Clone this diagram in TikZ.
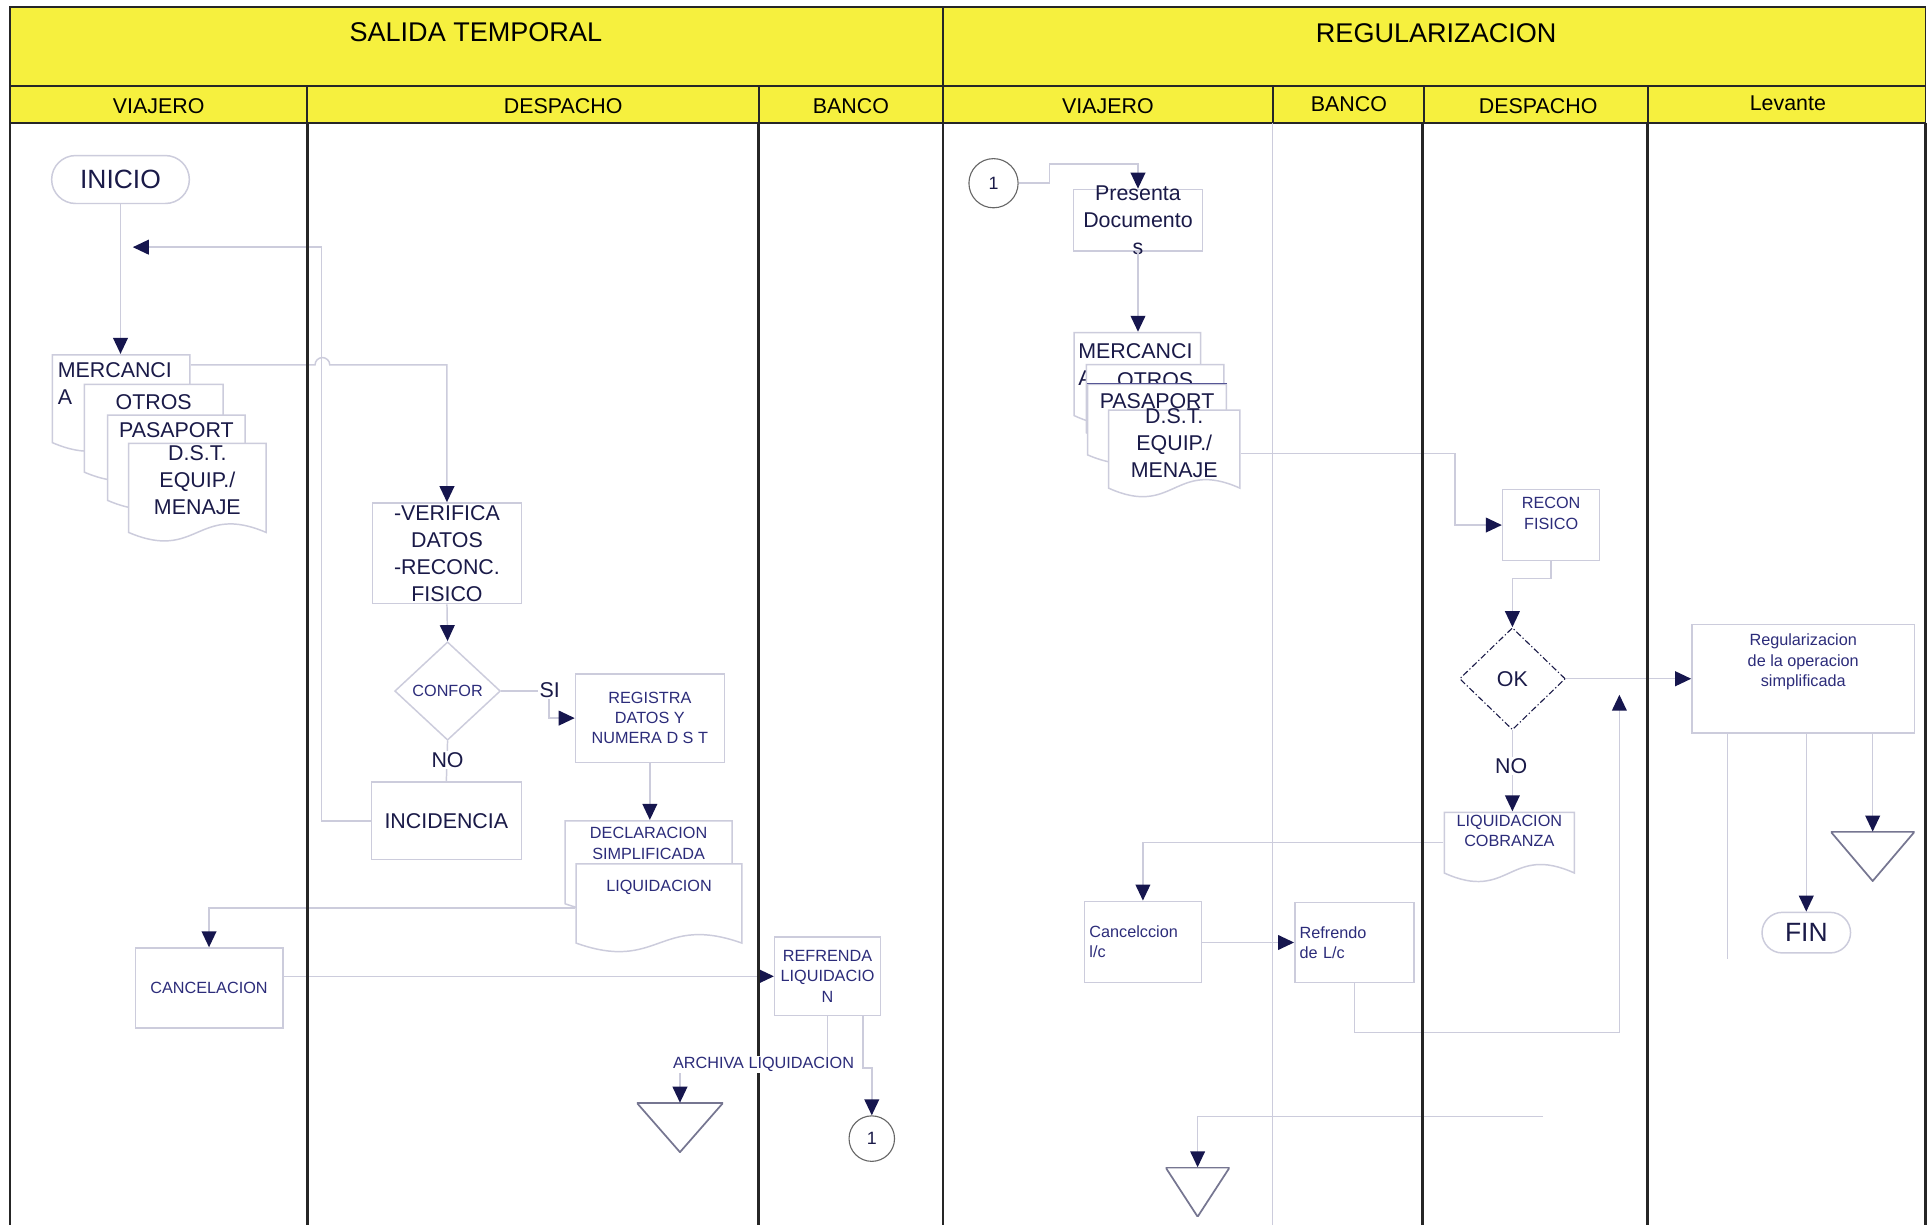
\documentclass[tikz,border=0pt]{standalone}
\usepackage{fontspec}
\setmainfont{Liberation Sans}
\usetikzlibrary{arrows.meta,shapes.geometric,calc}

\definecolor{amarillo}{RGB}{246,240,62}
\definecolor{tinta}{RGB}{26,26,72}
\definecolor{tinta2}{RGB}{44,44,122}
\definecolor{gris}{RGB}{204,204,220}
\definecolor{flecha}{RGB}{22,22,78}

\tikzset{
  titulo/.style={font=\fontsize{22}{26}\selectfont},
  cabecera/.style={font=\fontsize{17.4}{20}\selectfont},
  textogr/.style={font=\fontsize{17.4}{22}\selectfont, text=tinta},
  textoch/.style={font=\fontsize{13.2}{16.5}\selectfont, text=tinta2},
  etiq/.style={anchor=north, inner sep=5pt, align=center},
  tarea/.style={draw=gris, line width=1.2pt, fill=white, inner sep=1pt, align=center},
  inicio/.style={tarea, rounded corners=#1, font=\fontsize{21.5}{26}\selectfont, text=tinta},
  decision/.style={diamond, draw=gris, line width=1.2pt, fill=white, inner sep=0pt},
  conector/.style={circle, draw=black!60, line width=0.9pt, fill=white, inner sep=0pt,
    font=\fontsize{14.5}{16}\selectfont, text=tinta},
  docu/.style 2 args={minimum width=#1, minimum height=#2, inner sep=0pt, path picture={
      \path[fill=white, draw=gris, line width=1.2pt]
        ([shift={(0.6pt,-0.6pt)}]path picture bounding box.north west)
        -- ([shift={(-0.6pt,-0.6pt)}]path picture bounding box.north east)
        -- ([shift={(-0.6pt,8pt)}]path picture bounding box.south east)
        .. controls ($(path picture bounding box.south)+(0pt,32pt)$)
           and ($(path picture bounding box.south)+(0pt,-16pt)$)
        .. ([shift={(0.6pt,8pt)}]path picture bounding box.south west) -- cycle;}},
  archivo/.style={minimum width=#1, minimum height=40pt, inner sep=0pt, path picture={
      \draw[tinta!60, line width=1.4pt] (path picture bounding box.north west)
        -- (path picture bounding box.north east) -- (path picture bounding box.south) -- cycle;}},
  linea/.style={draw=gris, line width=1.2pt},
  flec/.style={linea, -{Triangle[length=13pt, width=12pt, color=flecha]}},
  carril/.style={draw=black!85, line width=2pt},
  rotulo/.style={fill=white, inner sep=1pt},
}

\begin{document}
\begin{tikzpicture}[x=1pt, y=-1pt]
    \fill[white] (0,0) rectangle (1568,996);
    \useasboundingbox (0,0) rectangle (1568,996);
    % cabecera
    \fill[amarillo] (8,6) rectangle (1566,100);
    \draw[black!85, line width=1.5pt] (8,6) rectangle (767,70) (767,6) rectangle (1566,70);
    \node[titulo] (salida) at (387,26) {SALIDA TEMPORAL};
    \node[titulo] (regular) at (1168,27) {REGULARIZACION};
    \foreach \xa/\xb/\xt/\yt/\nom [count=\i] in {8/250/129/86/VIAJERO,
        250/617/458/86/DESPACHO, 617/767/692/86/BANCO,
        767/1035/901/86/VIAJERO, 1035/1158/1097/85/BANCO,
        1158/1340/1251/86/DESPACHO, 1340/1566/1454/84/Levante}{
      \draw[black!85, line width=1.5pt] (\xa,70) rectangle (\xb,100);
      \node[cabecera] (cab\i) at (\xt,\yt) {\nom};
    }

    % salida temporal
    \node[inicio=19.5pt, minimum width=112pt, minimum height=39pt] (ini) at (98,146) {INICIO};
    \node[docu={113pt}{80pt}, label={[textogr,etiq,anchor=north west,align=left,yshift=-2pt]north west:MERCANCI\\A}] (merc) at (98.5,328) {};
    \node[docu={114pt}{80pt}, label={[textogr,etiq,yshift=-4pt]north:OTROS}] (otros) at (125,352) {};
    \node[docu={113pt}{78pt}, label={[textogr,etiq,yshift=-2pt]north:PASAPORT}] (pasap) at (143.5,376) {};
    \node[docu={113pt}{81pt}, label={[textogr,etiq,yshift=3pt]north:D.S.T.\\EQUIP./\\MENAJE}] (dst) at (160.5,400.5) {};
    \node[tarea, textogr, minimum width=121pt, minimum height=82pt] (verif) at (363.5,450) {-VERIFICA\\DATOS\\-RECONC.\\FISICO};
    \node[decision, textoch, minimum width=86pt, minimum height=80pt] (confor) at (364,562) {CONFOR};
    \node[tarea, textoch, minimum width=121pt, minimum height=72pt] (regis) at (528.5,584) {REGISTRA\\DATOS Y\\NUMERA D S T};
    \node[tarea, textogr, minimum width=122pt, minimum height=63pt] (incid) at (363,667.5) {INCIDENCIA};
    \node[docu={137pt}{76pt}, label={[textoch,etiq,yshift=-1pt]north:DECLARACION\\SIMPLIFICADA}] (decla) at (527.5,705) {};
    \node[docu={136pt}{73pt}, label={[textoch,etiq,yshift=-9pt]north:LIQUIDACION}] (liqui) at (536,738.5) {};
    \node[tarea, textoch, minimum width=120pt, minimum height=65pt] (cance) at (170,803.5) {CANCELACION};
    \node[tarea, textoch, minimum width=86pt, minimum height=64pt] (refre) at (673,794) {REFRENDA\\LIQUIDACIO\\N};
    \node[archivo=70pt] (arch1) at (553,917) {};
    \node[conector, minimum size=37pt] (con1) at (709,926) {1};

    % regularizacion
    \node[conector, minimum size=40pt] (con2) at (808,149) {1};
    \node[tarea, minimum width=105pt, minimum height=50pt] (prese) at (925.5,179) {};
    \node[textogr, align=center] (presT) at (prese) {Presenta\\Documento\\s};
    \node[docu={104pt}{76pt}, label={[textogr,etiq,anchor=north west,align=left,yshift=-4pt,xshift=-1pt]north west:MERCANCI\\A}] (merc2) at (925,308) {};
    \node[docu={113pt}{64pt}, label={[textogr,etiq,yshift=-2pt]north:OTROS}] (otros2) at (939.5,328) {};
    \node[docu={114pt}{66pt}, label={[textogr,etiq,yshift=-3pt]north:PASAPORT}] (pasap2) at (941,345) {};
    \draw[tinta2!80, line width=1.2pt] (pasap2.north west) -- (pasap2.north east);
    \node[docu={108pt}{72pt}, label={[textogr,etiq,yshift=6pt]north:D.S.T.\\EQUIP./\\MENAJE}] (dst2) at (955,369) {};
    \node[tarea, minimum width=79pt, minimum height=58pt, label={[textoch,etiq,yshift=-2pt]north:RECON\\FISICO}] (recon) at (1261.5,427) {};
    \node[decision, draw=tinta, dash pattern=on 5pt off 2pt on 1pt off 2pt, line width=0.9pt, textogr,
      minimum width=86pt, minimum height=83pt] (okey) at (1230,552) {OK};
    \node[docu={107pt}{58pt}, label={[textoch,etiq,yshift=2pt]north:LIQUIDACION\\COBRANZA}] (liqco) at (1227.5,689) {};
    \node[tarea, textoch, align=left, text width=87pt, inner sep=4pt, minimum height=66pt] (cance2) at (929.5,766) {Cancelccion\\l/c};
    \node[tarea, textoch, align=left, text width=89pt, inner sep=4pt, minimum height=65pt] (refre2) at (1101.5,766.5) {Refrendo\\de L/c};
    \node[tarea, minimum width=181pt, minimum height=88pt, label={[textoch,etiq,yshift=-3pt]north:Regularizacion\\de la operacion\\simplificada}] (regop) at (1466.5,552) {};
    \node[inicio=16.5pt, minimum width=72pt, minimum height=33pt] (fin) at (1469,758.5) {FIN};
    \node[archivo=52pt] (arch2) at (974,969.5) {};
    \node[archivo=68pt] (arch3) at (1523,696.5) {};

    \coordinate (vuelta) at (108,201);
    \coordinate (sube) at (1317,565);
    \coordinate (baja) at (1255,908);
    \coordinate (suelta) at (1405,780);

    \draw[flec] (ini.south) -- (ini.south |- merc.north);
    \draw[flec] (incid.west) -- ++(-40,0) |- (vuelta);
    \draw[flec] ([yshift=-9pt]merc.north east) -- ++(101,0) arc[start angle=180, end angle=0, radius=6pt] -| (verif.north);
    \draw[flec] (verif.south) -- (confor.north);
    \draw[flec] (confor.east) -| ([xshift=-21pt]regis.west) -- (regis.west);
    \draw[linea] (confor.south) -- (incid.north);
    \draw[flec] (regis.south) -- (regis.south |- decla.north);
    \draw[flec] (liqui.west) -| (cance.north);
    \draw[flec] (cance.east |- refre.west) -- (refre.west);
    \draw[flec] (refre.south) -- ++(0,40) -| (arch1.north);
    \draw[flec] ([xshift=29pt]refre.south) -- ++(0,42) -| (con1.north);

    \draw[flec] (con2.east) -- ++(25,0) |- ([yshift=20pt]prese.north) -- (prese.north);
    \draw[flec] (prese.south) -- (prese.south |- merc2.north);
    \draw[flec] (dst2.east) -- ++(174,0) |- (recon.west);
    \draw[flec] (recon.south) -- ++(0,14) -| (okey.north);
    \draw[flec] (okey.east) -- (okey.east -| regop.west);
    \draw[flec] (okey.south) -- (okey.south |- liqco.north);
    \draw[flec] ([yshift=4pt]liqco.west) -| (cance2.north);
    \draw[flec] (cance2.east |- refre2.west) -- (refre2.west);
    \draw[flec] (refre2.south) -- ++(0,40) -| (sube);
    \draw[flec] (baja) -| (arch2.north);
    \draw[flec] (regop.south -| fin.north) -- (fin.north);
    \draw[flec] (regop.south -| arch3.north) -- (arch3.north);
    \draw[linea] (regop.south -| suelta) -- (suelta);

    \node[rotulo, textogr] (si) at (447,561) {SI};
    \node[rotulo, textogr] (no1) at (364,618) {NO};
    \node[rotulo, textogr] (no2) at (1229,623) {NO};

    % carriles
    \foreach \x in {8,250,617,767,1157,1340,1566}
      \draw[carril] (\x,100) -- (\x,996);
    \draw[linea] (1035,100) -- (1035,996);
    \node[rotulo, textoch] (archi) at (621,866) {ARCHIVA LIQUIDACION};
\end{tikzpicture}
\end{document}
